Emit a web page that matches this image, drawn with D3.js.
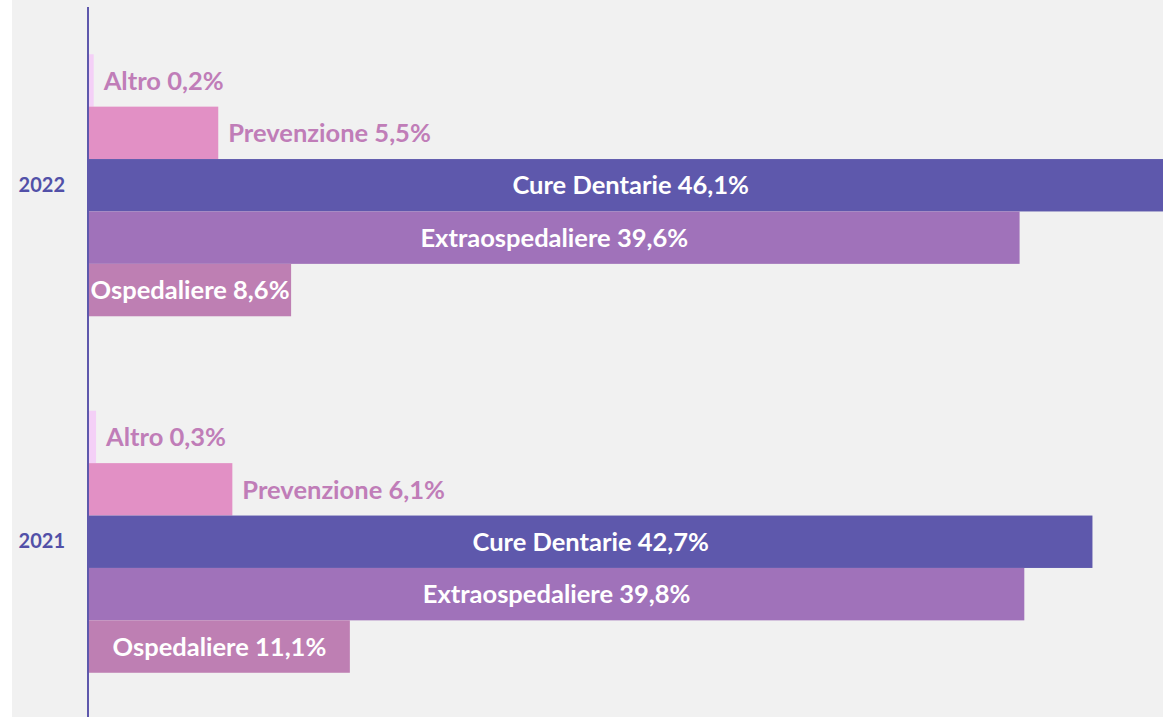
<!DOCTYPE html>
<html>
<head>
<meta charset="utf-8">
<script src="https://cdn.jsdelivr.net/npm/d3@7"></script>
<style>
    body { margin: 0; background: #ffffff; }
    #chart { width: 1163px; height: 717px; overflow: hidden; }
    text { font-family: Lato, "Open Sans", sans-serif; font-weight: bold; }
</style>
</head>
<body>
<div id="chart"></div>
<script>
const years = ['2022', '2021'];
const categories = ['Altro', 'Prevenzione', 'Cure Dentarie', 'Extraospedaliere', 'Ospedaliere'];
const values2022 = [0.2, 5.5, 46.1, 39.6, 8.6];
const values2021 = [0.3, 6.1, 42.7, 39.8, 11.1];
const barColors = ['#F4D0F7', '#E290C5', '#5E58AC', '#A072BA', '#BE7FB3'];

const valuesByYear = { '2022': values2022, '2021': values2021 };

const svgWidth = 1163;
const svgHeight = 717;
const axisX = 89;

const svg = d3.select('#chart')
    .append('svg')
    .attr('width', svgWidth)
    .attr('height', svgHeight);

// grey plot background
svg.append('rect')
    .attr('x', 12)
    .attr('y', 0)
    .attr('width', svgWidth - 12)
    .attr('height', svgHeight)
    .attr('fill', '#F1F1F1');

const yScale = d3.scaleBand()
    .domain(years)
    .range([7, 720])
    .paddingInner(0.265)
    .paddingOuter(0.1325);

const subScale = d3.scaleBand()
    .domain(categories)
    .range([0, yScale.bandwidth()]);

const xScale = d3.scaleLinear()
    .domain([0, 50])
    .range([axisX, axisX + 1175]);

const colorScale = d3.scaleOrdinal()
    .domain(categories)
    .range(barColors);

const fmt = v => v.toFixed(1).replace('.', ',') + '%';

const groups = svg.selectAll('.year')
    .data(years)
    .enter()
    .append('g')
    .attr('class', 'year')
    .attr('transform', d => `translate(0, ${yScale(d)})`);

groups.each(function (year) {
    const g = d3.select(this);
    const rows = categories.map((c, i) => ({ cat: c, value: valuesByYear[year][i] }));

    g.selectAll('rect')
        .data(rows)
        .enter()
        .append('rect')
        .attr('x', xScale(0))
        .attr('y', d => subScale(d.cat))
        .attr('width', d => xScale(d.value) - xScale(0))
        .attr('height', subScale.bandwidth())
        .attr('fill', d => colorScale(d.cat));

    // big bars get a centred white label, small ones a label outside the end
    g.selectAll('.lbl')
        .data(rows)
        .enter()
        .append('text')
        .attr('class', 'lbl')
        .attr('x', d => d.value > 8 ? (xScale(0) + xScale(d.value)) / 2 : xScale(d.value) + 10)
        .attr('y', d => subScale(d.cat) + subScale.bandwidth() / 2)
        .attr('dy', '0.36em')
        .attr('text-anchor', d => d.value > 8 ? 'middle' : 'start')
        .attr('fill', d => d.value > 8 ? '#FFFFFF' : '#C07DB8')
        .style('font-size', '25.5px')
        .text(d => `${d.cat} ${fmt(d.value)}`);
});

// vertical category axis
const yAxis = svg.append('g')
    .attr('transform', `translate(${axisX - 1}, 0)`)
    .call(d3.axisLeft(yScale).tickSize(0).tickPadding(23));

yAxis.select('.domain')
    .attr('d', `M0,7V${svgHeight}`)
    .attr('stroke', '#5E58AC')
    .attr('stroke-width', 2);

yAxis.selectAll('text')
    .attr('fill', '#5250A8')
    .style('font-size', '20px')
    .style('font-family', 'Lato, sans-serif')
    .style('font-weight', 'bold');
</script>
</body>
</html>
